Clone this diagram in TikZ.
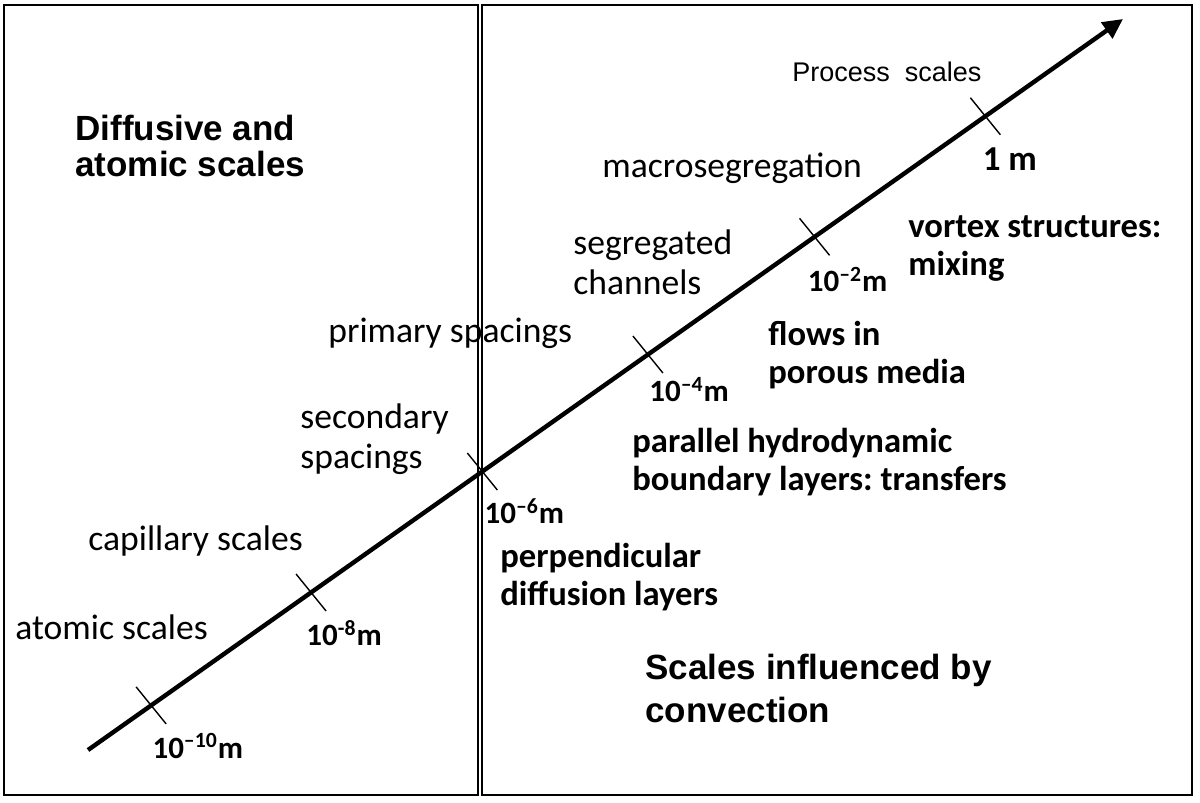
\documentclass[tikz,border=0pt]{standalone}
\usepackage{fontspec}
\setmainfont{Carlito}
\newfontfamily\arialfont{Liberation Sans}
\usetikzlibrary{arrows.meta,calc}
\frenchspacing

\tikzset{
  panel/.style={draw, line width=1pt},
  axis/.style={line width=2.2pt, -{Triangle[length=10pt,width=9.5pt]}},
  tickmark/.style={line width=0.7pt},
  scalename/.style={font=\fontsize{17.8}{20}\selectfont, inner sep=0pt, anchor=base west, align=left},
  flowtext/.style={font=\bfseries\fontsize{17.3}{19}\selectfont, inner sep=0pt, anchor=base west, align=left},
  ticklabel/.style={font=\bfseries\fontsize{15.5}{18}\selectfont, inner sep=0pt, anchor=base west},
  paneltitle/.style={font=\arialfont\bfseries\fontsize{17.5}{18}\selectfont, inner sep=0pt, anchor=base west, align=left},
}

\begin{document}
\begin{tikzpicture}[x=0.5pt,y=-0.5pt]
    \useasboundingbox (0,0) rectangle (1200,803);

    % Two panels
    \draw[panel] (4,5) rectangle (478,795);
    \draw[panel] (482,5) rectangle (1192,795);

    % Length scale axis
    \coordinate (start) at (88,750);
    \coordinate (end) at (1123,19);
    \draw[axis] (start) -- (end);
    \foreach \n/\p in {t10/0.061, t8/0.2155, t6/0.381, t4/0.541, t2/0.702, t0/0.867} {
        \coordinate (\n) at ($(start)!\p!(end)$);
        \draw[tickmark] (\n) ++(-15,-18.5) -- ++(30,37);
    }

    % Tick labels
    \node[ticklabel] (l10) at ([shift={(1,53)}]t10) {10\textsuperscript{–10}m};
    \node[ticklabel] (l8) at ([shift={(-5,53)}]t8) {10\textsuperscript{-8}m};
    \node[ticklabel] (l6) at ([shift={(2,52)}]t6) {10\textsuperscript{–6}m};
    \node[ticklabel] (l4) at ([shift={(1,47)}]t4) {10\textsuperscript{–4}m};
    \node[ticklabel] (l2) at ([shift={(-7,55)}]t2) {10\textsuperscript{–2}m};
    \node[ticklabel, font=\bfseries\fontsize{17.5}{18}\selectfont] (l0) at ([shift={(-3,54)}]t0) {1 m};

    % Panel titles (base = last line)
    \node[paneltitle] (difftitle) at (75,176) {Diffusive and\\atomic scales};
    \node[paneltitle, font=\arialfont\bfseries\fontsize{17.5}{21.5}\selectfont] (convtitle) at (645,722) {Scales influenced by\\convection};

    % Scale names
    \node[scalename, font=\arialfont\fontsize{13.5}{16}\selectfont] (process) at (792,81) {Process\ \ scales};
    \node[scalename] (macro) at (602,177) {macrosegregation};
    \node[scalename] (channels) at (573,294) {segregated\\channels};
    \node[scalename] (primary) at (328,342) {primary spacings};
    \node[scalename] (secondary) at (300,468) {secondary\\spacings};
    \node[scalename] (capillary) at (88,550) {capillary scales};
    \node[scalename] (atomic) at (15,639) {atomic scales};

    % Flow phenomena
    \node[flowtext] (vortex) at (908,275) {vortex structures:\\mixing};
    \node[flowtext] (porous) at (768,383) {flows in\\porous media};
    \node[flowtext] (parallel) at (632,490) {parallel hydrodynamic\\boundary layers: transfers};
    \node[flowtext] (perp) at (500,605) {perpendicular\\diffusion layers};
\end{tikzpicture}
\end{document}
